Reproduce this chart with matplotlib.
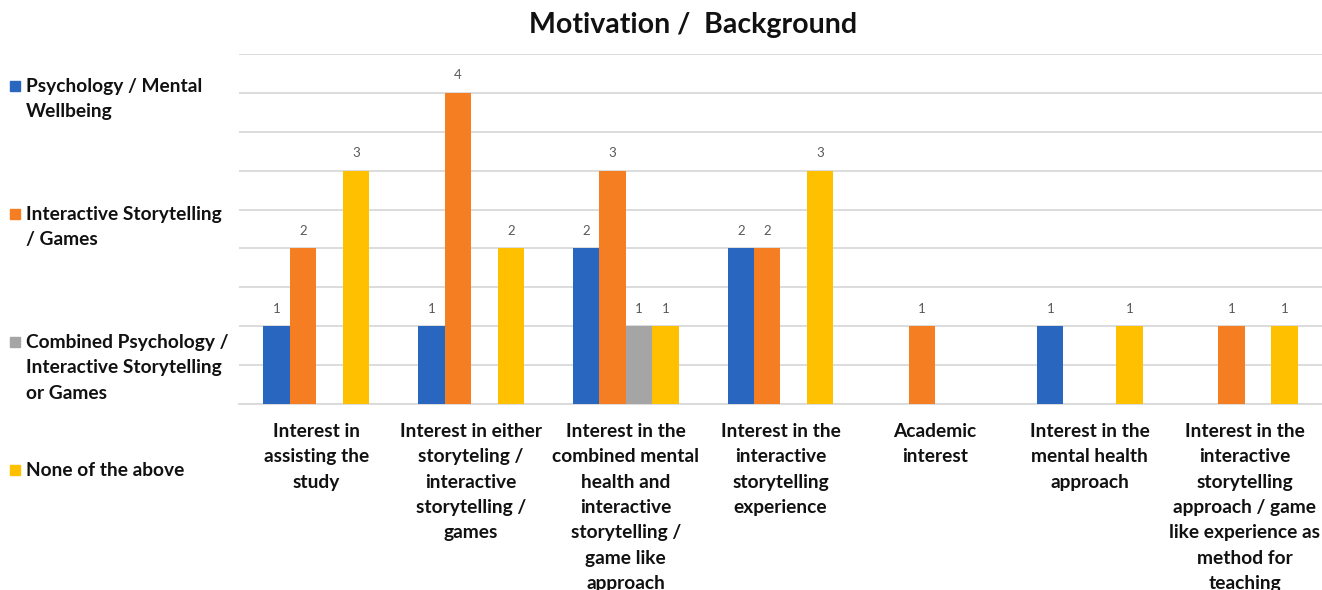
import matplotlib.pyplot as plt
import matplotlib.patches as mpatches
import numpy as np

categories = [
    "Interest in\nassisting the\nstudy",
    "Interest in either\nstoryteling /\ninteractive\nstorytelling /\ngames",
    "Interest in the\ncombined mental\nhealth and\ninteractive\nstorytelling /\ngame like\napproach",
    "Interest in the\ninteractive\nstorytelling\nexperience",
    "Academic\ninterest",
    "Interest in the\nmental health\napproach",
    "Interest in the\ninteractive\nstorytelling\napproach / game\nlike experience as\nmethod for\nteaching",
]
series_names = [
    "Psychology / Mental\nWellbeing",
    "Interactive Storytelling\n/ Games",
    "Combined Psychology /\nInteractive Storytelling\nor Games",
    "None of the above",
]
psychology = [1, 1, 2, 2, 0, 1, 0]
storytelling = [2, 4, 3, 2, 1, 0, 1]
combined = [0, 0, 1, 0, 0, 0, 0]
none_above = [3, 2, 1, 3, 0, 1, 1]

series = [psychology, storytelling, combined, none_above]
colors = ["#2966BF", "#F57E22", "#A5A5A5", "#FFC000"]

W, H = 1322, 590
fig = plt.figure(figsize=(W / 100, H / 100), dpi=100)
ax = fig.add_axes([239 / W, 1 - 404 / H, (1322 - 239) / W, (404 - 54) / H])

FONT = "Lato"
x = np.arange(len(categories))
bw = 0.171
offsets = (np.arange(4) - 1.5) * bw
for vals, off, c in zip(series, offsets, colors):
    for xi, v in zip(x, vals):
        if v > 0:
            ax.bar(xi + off, v, width=bw, color=c, zorder=3)
            ax.text(xi + off, v + 0.15, str(v), ha="center", va="bottom",
                    fontsize=9.5, color="#595959", family=FONT)

ax.set_xlim(-0.5, len(categories) - 0.5)
ax.set_ylim(0, 4.5)
ax.set_yticks(np.arange(0, 4.51, 0.5))
ax.yaxis.grid(True, color="#D9D9D9", linewidth=1.3, zorder=0)
ax.tick_params(axis="y", left=False, labelleft=False)
ax.set_xticks(x)
ax.set_xticklabels(categories, fontsize=13.8, fontweight="bold", family=FONT,
                   linespacing=1.6, color="#111111")
ax.tick_params(axis="x", length=0, pad=13.5)
for s in ["top", "right", "left"]:
    ax.spines[s].set_visible(False)
ax.spines["bottom"].set_color("#D9D9D9")
ax.spines["bottom"].set_linewidth(1.3)

fig.text(693 / W, 1 - 24.5 / H, "Motivation /  Background", ha="center", va="center",
         fontsize=20.5, fontweight="bold", family=FONT, color="#111111")

# Legend on the left side
legend_tops = [86, 214, 342, 470]
for name, c, yt in zip(series_names, colors, legend_tops):
    fig.patches.append(mpatches.Rectangle((10 / W, 1 - (yt + 5) / H), 10 / W, 10 / H,
                                          transform=fig.transFigure, color=c))
    fig.text(26 / W, 1 - (yt - 8) / H, name, ha="left", va="top", fontsize=13.8,
             fontweight="bold", family=FONT, linespacing=1.6, color="#111111")

fig.savefig("out.png", dpi=100)
